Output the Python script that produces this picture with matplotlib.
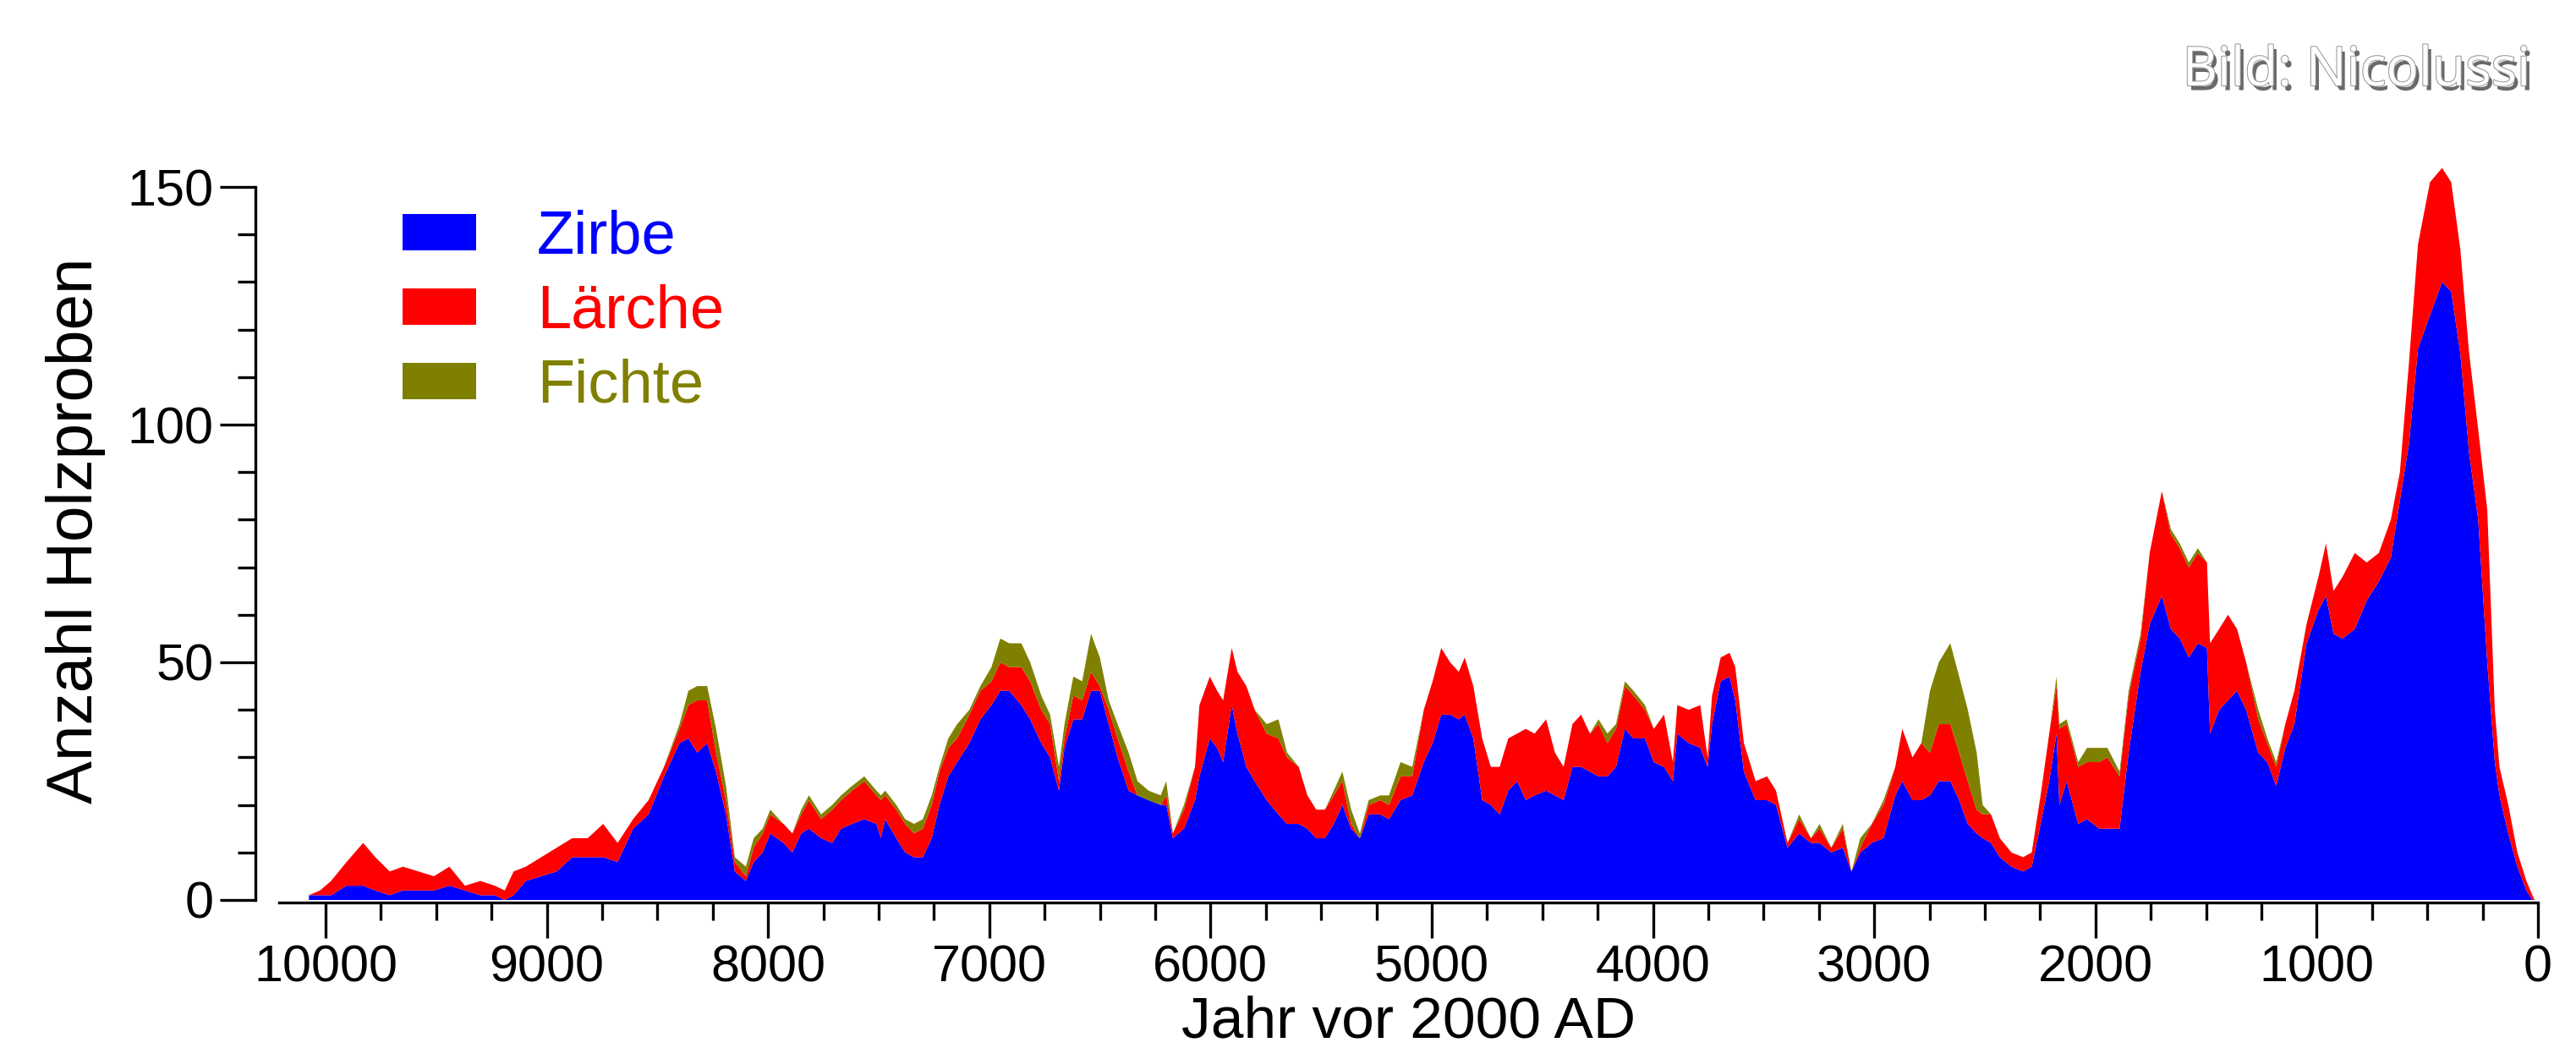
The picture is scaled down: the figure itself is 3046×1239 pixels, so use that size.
import matplotlib
matplotlib.use("Agg")
import matplotlib.pyplot as plt
import matplotlib.patheffects as pe
from matplotlib.ticker import MultipleLocator
import numpy as np

plt.rcParams['font.family'] = ['Liberation Sans', 'DejaVu Sans']

# Jahr vor 2000 AD und Anzahl der Holzproben je Baumart
years = [10075, 10025, 9975, 9905, 9830, 9775, 9710, 9650, 9580, 9510, 9440, 9370, 9300, 9235, 9190,
         9150, 9095, 9025, 8955, 8885, 8815, 8745, 8680, 8610, 8540, 8470, 8400, 8360, 8320, 8275,
         8235, 8190, 8150, 8100, 8065, 8024, 7990, 7930, 7890, 7850, 7815, 7760, 7710, 7670, 7620,
         7565, 7510, 7490, 7470, 7420, 7380, 7340, 7300, 7260, 7225, 7185, 7145, 7090, 7040, 6990,
         6950, 6910, 6855, 6815, 6765, 6725, 6685, 6660, 6620, 6580, 6540, 6500, 6460, 6420, 6370,
         6330, 6280, 6225, 6200, 6170, 6120, 6070, 6050, 6003, 5970, 5943, 5904, 5878, 5838, 5800,
         5746, 5693, 5654, 5601, 5562, 5522, 5483, 5443, 5404, 5364, 5325, 5285, 5233, 5193, 5141,
         5088, 5036, 4996, 4957, 4917, 4878, 4851, 4812, 4772, 4733, 4693, 4654, 4614, 4575, 4535,
         4483, 4443, 4404, 4364, 4325, 4285, 4246, 4206, 4167, 4127, 4088, 4036, 3996, 3950, 3910,
         3890, 3838, 3786, 3753, 3733, 3694, 3654, 3628, 3589, 3536, 3484, 3444, 3392, 3339, 3286,
         3247, 3194, 3142, 3103, 3063, 3011, 2958, 2905, 2873, 2827, 2787, 2748, 2708, 2656, 2616,
         2577, 2537, 2510, 2472, 2432, 2380, 2327, 2288, 2248, 2209, 2176, 2163, 2130, 2078, 2038,
         1983, 1946, 1891, 1850, 1796, 1755, 1700, 1659, 1619, 1578, 1537, 1496, 1482, 1441, 1401,
         1360, 1319, 1264, 1223, 1183, 1142, 1101, 1046, 992, 958, 924, 883, 828, 774, 719,
         665, 624, 583, 542, 488, 433, 392, 351, 311, 270, 229, 195, 174, 134, 93,
         52, 25, 15]

zirbe = [1, 1, 1, 3, 3, 2, 1, 2, 2, 2, 3, 2, 1, 1, 0,
         1, 4, 5, 6, 9, 9, 9, 8, 15, 18, 26, 33, 34, 31, 33,
         27, 18, 6, 4, 8, 10, 14, 12, 10, 14, 15, 13, 12, 15, 16,
         17, 16, 13, 17, 13, 10, 9, 9, 13, 20, 26, 29, 33, 38, 41,
         44, 44, 41, 38, 33, 30, 23, 32, 38, 38, 44, 44, 37, 30, 23,
         22, 21, 20, 20, 13, 15, 21, 26, 34, 32, 29, 41, 35, 28, 25,
         21, 18, 16, 16, 15, 13, 13, 16, 20, 15, 13, 18, 18, 17, 21,
         22, 29, 33, 39, 39, 38, 39, 34, 21, 20, 18, 23, 25, 21, 22,
         23, 22, 21, 28, 28, 27, 26, 26, 28, 36, 34, 34, 29, 28, 25,
         35, 33, 32, 28, 37, 46, 47, 42, 27, 21, 21, 20, 11, 14, 12,
         12, 10, 11, 6, 10, 12, 13, 22, 25, 21, 21, 22, 25, 25, 21,
         16, 14, 13, 12, 9, 7, 6, 7, 16, 25, 35, 20, 25, 16, 17,
         15, 15, 15, 31, 48, 58, 64, 57, 55, 51, 54, 53, 35, 40, 42,
         44, 40, 31, 29, 24, 32, 37, 54, 61, 64, 56, 55, 57, 63, 67,
         72, 84, 96, 116, 123, 130, 128, 115, 94, 80, 50, 29, 22, 14, 7,
         2, 0, 0]

laerche = [0, 1, 3, 5, 9, 7, 5, 5, 4, 3, 4, 1, 3, 2, 2,
           5, 3, 4, 5, 4, 4, 7, 4, 2, 3, 2, 3, 7, 11, 9,
           4, 3, 2, 1, 3, 4, 4, 4, 4, 4, 6, 4, 7, 6, 7,
           8, 6, 8, 5, 6, 6, 5, 6, 7, 7, 6, 5, 6, 6, 5,
           6, 5, 8, 8, 7, 7, 2, 2, 5, 4, 4, 1, 3, 4, 4,
           0, 0, 0, 2, 1, 4, 7, 15, 13, 12, 13, 12, 13, 17, 15,
           14, 16, 14, 12, 7, 6, 6, 6, 5, 1, 0, 2, 3, 3, 5,
           4, 11, 13, 14, 11, 10, 12, 11, 13, 8, 10, 11, 10, 15, 13,
           15, 9, 7, 9, 11, 8, 11, 7, 8, 9, 9, 6, 7, 11, 4,
           6, 7, 9, 2, 6, 5, 5, 7, 6, 4, 5, 3, 1, 3, 1,
           3, 1, 4, 0, 1, 4, 7, 6, 11, 9, 12, 9, 12, 12, 10,
           9, 5, 5, 6, 4, 3, 3, 3, 6, 10, 10, 16, 12, 12, 12,
           14, 15, 11, 12, 7, 15, 22, 20, 19, 19, 19, 18, 19, 17, 18,
           13, 10, 7, 4, 4, 5, 7, 4, 7, 11, 9, 13, 16, 8, 6,
           8, 6, 17, 22, 28, 24, 23, 22, 21, 19, 32, 11, 6, 6, 3,
           2, 1, 0]

fichte = [0, 0, 0, 0, 0, 0, 0, 0, 0, 0, 0, 0, 0, 0, 0,
          0, 0, 0, 0, 0, 0, 0, 0, 0, 0, 0, 1, 3, 3, 3,
          5, 3, 1, 2, 2, 1, 1, 0, 0, 1, 1, 1, 1, 1, 1,
          1, 1, 1, 1, 1, 1, 2, 2, 2, 1, 2, 3, 1, 1, 3,
          5, 5, 5, 4, 3, 2, 3, 3, 4, 4, 8, 6, 2, 3, 4,
          3, 2, 2, 3, 0, 1, 0, 0, 0, 0, 0, 0, 0, 0, 0,
          2, 4, 1, 0, 0, 0, 0, 1, 2, 3, 1, 1, 1, 2, 3,
          2, 0, 0, 0, 0, 0, 0, 0, 0, 0, 0, 0, 0, 0, 0,
          0, 0, 0, 0, 0, 0, 1, 2, 1, 1, 1, 1, 0, 0, 0,
          0, 0, 0, 0, 0, 0, 0, 0, 0, 0, 0, 0, 0, 1, 0,
          1, 0, 1, 0, 2, 0, 1, 0, 0, 0, 0, 13, 13, 17, 16,
          15, 12, 2, 0, 0, 0, 0, 0, 0, 0, 2, 1, 1, 1, 3,
          3, 2, 1, 1, 1, 0, 0, 1, 1, 1, 1, 0, 0, 0, 0,
          0, 0, 2, 1, 1, 0, 0, 0, 0, 0, 0, 0, 0, 0, 0,
          0, 0, 0, 0, 0, 0, 0, 0, 0, 0, 0, 0, 0, 0, 0,
          0, 0, 0]

species = ['Zirbe', 'Lärche', 'Fichte']
colors = ['#0000FF', '#FF0000', '#808000']

W, H = 3046, 1239
fig = plt.figure(figsize=(W / 100, H / 100), dpi=100)
ax = fig.add_axes([330 / W, 1 - 1066.8 / H, (3001 - 330) / W, (1066.8 - 187.3) / H])

ax.stackplot(years, zirbe, laerche, fichte, labels=species, colors=colors, linewidth=0)

ax.set_xlim(10210, 0)
ax.set_ylim(-0.5, 156)

for s in ['top', 'right']:
    ax.spines[s].set_visible(False)
ax.spines['left'].set_position(('outward', 20))
ax.spines['left'].set_bounds(0, 150)
for s in ['left', 'bottom']:
    ax.spines[s].set_linewidth(2.4)

ax.xaxis.set_major_locator(MultipleLocator(1000))
ax.xaxis.set_minor_locator(MultipleLocator(250))
ax.yaxis.set_major_locator(MultipleLocator(50))
ax.yaxis.set_minor_locator(MultipleLocator(10))
ax.tick_params(which='major', length=30, width=2.4, labelsize=44, pad=6)
ax.tick_params(which='minor', length=15, width=2.4)

ax.set_xlabel('Jahr vor 2000 AD', fontsize=50, labelpad=2)
ax.set_ylabel('Anzahl Holzproben', fontsize=55, labelpad=18)

leg = ax.legend(loc='upper left', bbox_to_anchor=(476 / W, 1 - 248 / H), bbox_transform=fig.transFigure,
                frameon=False, fontsize=52, handlelength=1.2, handleheight=0.54,
                handletextpad=1.0, labelspacing=0.29, borderaxespad=0, borderpad=0)
for txt, c in zip(leg.get_texts(), colors):
    txt.set_color(c)

fig.text(2992 / W, 1 - 84 / H, 'Bild: Nicolussi', ha='right', va='center', fontsize=46,
         family=['Open Sans', 'DejaVu Sans'], color='white',
         path_effects=[pe.withSimplePatchShadow(offset=(3, -4), shadow_rgbFace='#444444', alpha=0.8),
                       pe.withStroke(linewidth=1.5, foreground='#999999')])

fig.savefig('out.png', dpi=100)
